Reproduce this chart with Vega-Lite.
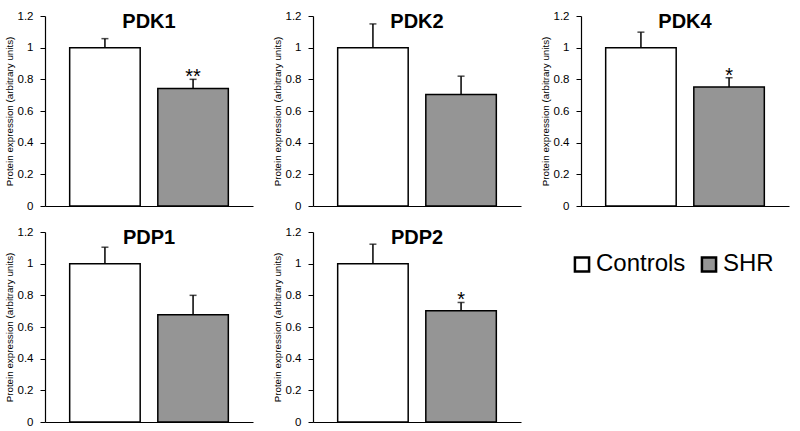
{
  "$schema": "https://vega.github.io/schema/vega-lite/v6.json",
  "background": "white",
  "padding": {"left": 4, "top": 10, "right": 5, "bottom": 5},
  "autosize": {"type": "pad"},
  "data": {"values": [
    {"protein": "PDK1", "group": "Controls", "value": 1.0, "upper": 1.057, "sig": ""},
    {"protein": "PDK1", "group": "SHR", "value": 0.742, "upper": 0.80, "sig": "**"},
    {"protein": "PDK2", "group": "Controls", "value": 1.0, "upper": 1.15, "sig": ""},
    {"protein": "PDK2", "group": "SHR", "value": 0.704, "upper": 0.82, "sig": ""},
    {"protein": "PDK4", "group": "Controls", "value": 1.0, "upper": 1.098, "sig": ""},
    {"protein": "PDK4", "group": "SHR", "value": 0.752, "upper": 0.81, "sig": "*"},
    {"protein": "PDP1", "group": "Controls", "value": 1.0, "upper": 1.104, "sig": ""},
    {"protein": "PDP1", "group": "SHR", "value": 0.677, "upper": 0.80, "sig": ""},
    {"protein": "PDP2", "group": "Controls", "value": 1.0, "upper": 1.123, "sig": ""},
    {"protein": "PDP2", "group": "SHR", "value": 0.702, "upper": 0.755, "sig": "*"}
  ]},
  "facet": {
    "field": "protein",
    "type": "nominal",
    "header": {
      "title": null,
      "labelFont": "Liberation Sans",
      "labelFontSize": 20,
      "labelFontWeight": "bold",
      "labelColor": "black",
      "labelPadding": -22
    }
  },
  "columns": 3,
  "spacing": {"column": 19, "row": 14},
  "resolve": {"axis": {"y": "independent", "x": "independent"}},
  "spec": {
    "width": 208,
    "height": 190,
    "encoding": {
      "x": {
        "field": "group",
        "type": "nominal",
        "scale": {"paddingInner": 0.2, "paddingOuter": 0.28},
        "axis": {"title": null, "labels": false, "ticks": false, "domainColor": "black", "domainWidth": 1.2}
      }
    },
    "layer": [
      {
        "mark": {"type": "bar", "stroke": "black", "strokeWidth": 1.5},
        "encoding": {
          "y": {
            "field": "value",
            "type": "quantitative",
            "scale": {"domain": [0, 1.2], "nice": false},
            "axis": {"title": "Protein expression (arbitrary units)", "values": [0, 0.2, 0.4, 0.6, 0.8, 1, 1.2], "format": "~g"}
          },
          "fill": {
            "field": "group",
            "type": "nominal",
            "scale": {"domain": ["Controls", "SHR"], "range": ["white", "#959595"]},
            "legend": {
              "title": null,
              "orient": "none",
              "legendX": 525,
              "legendY": 236,
              "direction": "horizontal",
              "symbolType": "square",
              "symbolSize": 200,
              "symbolStrokeColor": "black",
              "symbolStrokeWidth": 2.5,
              "labelFont": "Liberation Sans",
              "labelFontSize": 24,
              "labelColor": "black",
              "labelOffset": 2,
              "columnPadding": 10,
              "labelLimit": 200
            }
          }
        }
      },
      {
        "mark": {"type": "rule", "color": "black", "strokeWidth": 1.5},
        "encoding": {
          "y": {"field": "value", "type": "quantitative", "axis": {"title": "Protein expression (arbitrary units)", "values": [0, 0.2, 0.4, 0.6, 0.8, 1, 1.2], "format": "~g"}},
          "y2": {"field": "upper"}
        }
      },
      {
        "mark": {"type": "tick", "color": "black", "size": 7, "thickness": 1.5, "orient": "horizontal"},
        "encoding": {
          "y": {"field": "upper", "type": "quantitative", "axis": {"title": "Protein expression (arbitrary units)", "values": [0, 0.2, 0.4, 0.6, 0.8, 1, 1.2], "format": "~g"}}
        }
      },
      {
        "mark": {"type": "text", "font": "Liberation Sans", "fontSize": 20, "color": "black", "baseline": "alphabetic", "dy": 4},
        "encoding": {
          "y": {"field": "upper", "type": "quantitative", "axis": {"title": "Protein expression (arbitrary units)", "values": [0, 0.2, 0.4, 0.6, 0.8, 1, 1.2], "format": "~g"}},
          "text": {"field": "sig"}
        }
      }
    ]
  },
  "config": {
    "view": {"stroke": null},
    "font": "Liberation Sans",
    "axisY": {
      "titleFont": "Liberation Sans",
      "titleFontSize": 9.8,
      "titleFontWeight": "normal",
      "titleColor": "black",
      "titlePadding": 3,
      "labelOverlap": false,
      "labelFont": "Liberation Sans",
      "labelFontSize": 11.5,
      "labelColor": "black",
      "labelPadding": 7,
      "grid": false,
      "tickColor": "black",
      "tickSize": 5,
      "domainColor": "black",
      "domainWidth": 1.2
    }
  }
}
